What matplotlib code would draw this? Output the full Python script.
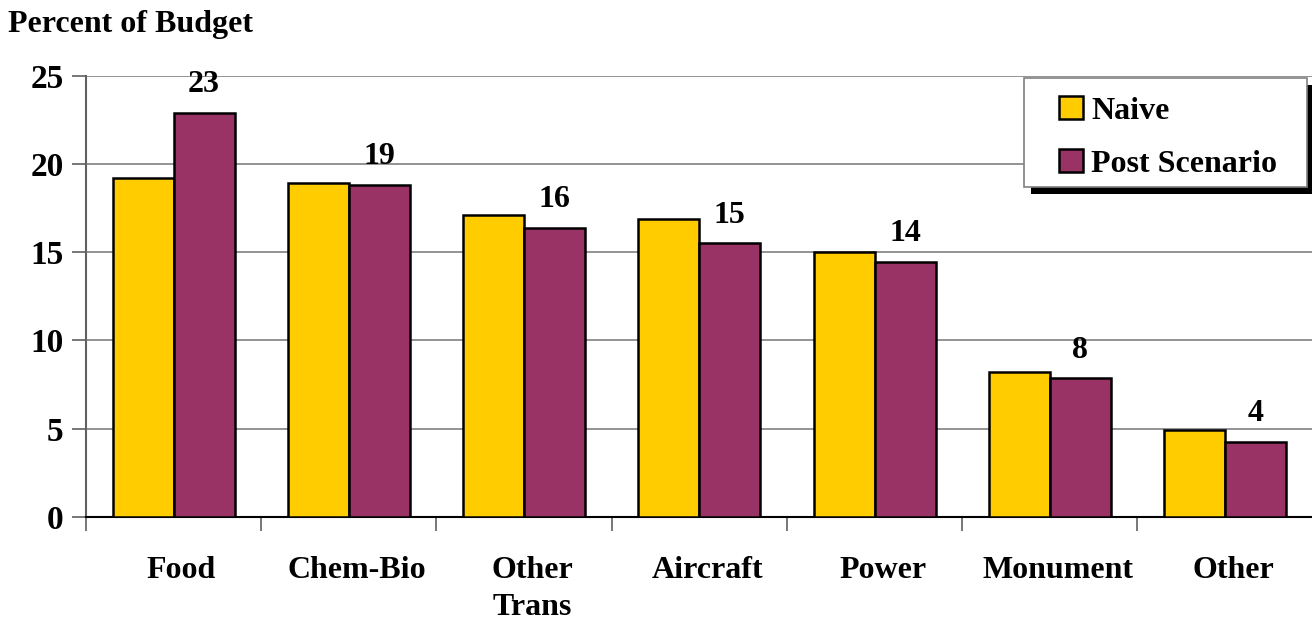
import matplotlib
matplotlib.use('Agg')
import matplotlib.pyplot as plt
import matplotlib.transforms as mtransforms
import numpy as np
from matplotlib.patches import Rectangle

plt.rcParams.update({'font.family': 'Liberation Serif', 'font.weight': 'bold'})

categories = ['Food', 'Chem-Bio', 'Other\nTrans', 'Aircraft', 'Power', 'Monument', 'Other']
naive = [19.2, 18.9, 17.1, 16.9, 15.0, 8.2, 4.95]
post = [22.9, 18.8, 16.4, 15.5, 14.45, 7.85, 4.25]
labels = ['23', '19', '16', '15', '14', '8', '4']

YELLOW = '#FFCC00'
PLUM = '#993366'
W, H = 1312, 621

fig = plt.figure(figsize=(W / 100, H / 100), dpi=100)
ax = fig.add_axes([0.0655, 0.1675, 0.935, 0.7105])

x = np.arange(len(categories))
w = 0.348
ax.bar(x - w / 2, naive, w, color=YELLOW, edgecolor='black', lw=1.8, label='Naive', zorder=3)
ax.bar(x + w / 2, post, w, color=PLUM, edgecolor='black', lw=1.8, label='Post Scenario', zorder=3)

for xi, v, t in zip(x, post, labels):
    ax.annotate(t, (xi + w / 2, v), xytext=(0, 10), textcoords='offset points',
                ha='center', va='bottom', fontsize=23, fontweight='bold')

ax.set_xlim(-0.5, len(categories) - 0.5)
ax.set_ylim(0, 25)
ax.set_yticks([0, 5, 10, 15, 20, 25])
ax.yaxis.grid(True, color='#808080', lw=1.2, zorder=0)
ax.set_axisbelow(True)

ax.set_xticks(x)
ax.set_xticklabels(categories, fontsize=23, fontweight='bold', linespacing=1.35)
ax.tick_params(axis='x', length=0, pad=28)
shift = mtransforms.ScaledTranslation(8 / 100, 0, fig.dpi_scale_trans)
for lab in ax.get_xticklabels():
    lab.set_transform(lab.get_transform() + shift)
ax.set_xticks(np.arange(-0.5, len(categories)), minor=True)
ax.tick_params(axis='x', which='minor', length=10, width=1.2, color='#606060', direction='out')
ax.tick_params(axis='y', length=10, width=1.2, color='#606060', labelsize=24, pad=6)
for lab in ax.get_yticklabels():
    lab.set_fontweight('bold')

ax.spines['top'].set_visible(False)
ax.spines['right'].set_visible(False)
ax.spines['left'].set_color('#606060')
ax.spines['left'].set_linewidth(1.5)
ax.spines['bottom'].set_color('black')
ax.spines['bottom'].set_linewidth(1.5)

fig.text(0.006, 0.96, 'Percent of Budget', fontsize=23, fontweight='bold', va='center', ha='left')

# legend box with drop shadow (drawn by hand, pixel layout of the original)
bx0, bx1, by0, by1 = 1024, 1307, 78, 187
shadow = Rectangle((bx0 + 7, H - by1 - 7), bx1 - bx0, by1 - by0, transform=None,
                   facecolor='black', edgecolor='none', zorder=9, clip_on=False)
frame = Rectangle((bx0, H - by1), bx1 - bx0, by1 - by0, transform=None,
                  facecolor='white', edgecolor='#808080', lw=1.2, zorder=9.5, clip_on=False)
ax.add_artist(shadow)
ax.add_artist(frame)
leg = ax.legend(loc='upper left', bbox_to_anchor=(1059 / W, 1 - 96 / H),
                bbox_transform=fig.transFigure, fontsize=23, frameon=False,
                handlelength=0.75, handleheight=0.75, handletextpad=0.25,
                borderpad=0, labelspacing=0.72, borderaxespad=0)
leg.set_zorder(10)
for h in leg.legend_handles:
    h.set_edgecolor('black')
    h.set_linewidth(1.8)

fig.savefig('out.png', dpi=100)
